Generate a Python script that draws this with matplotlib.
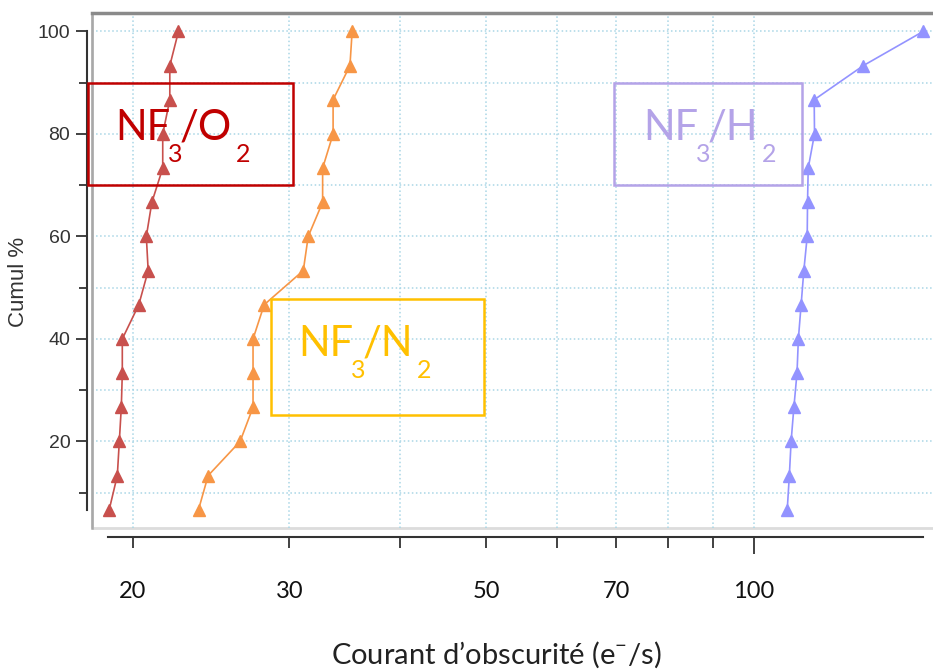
import matplotlib
matplotlib.use("Agg")
import matplotlib.pyplot as plt
from matplotlib.patches import Rectangle
from matplotlib.ticker import FixedLocator, FuncFormatter, MultipleLocator

# cumul % (15 devices each)
cumul = [6.67, 13.33, 20.0, 26.67, 33.33, 40.0, 46.67, 53.33,
         60.0, 66.67, 73.33, 80.0, 86.67, 93.33, 100.0]

# dark current (e-/s), sorted
nf3_o2 = [18.8, 19.2, 19.3, 19.4, 19.45, 19.45, 20.3, 20.8,
          20.7, 21.0, 21.6, 21.6, 22.0, 22.0, 22.5]
nf3_n2 = [23.7, 24.3, 26.4, 27.3, 27.3, 27.3, 28.1, 31.1,
          31.5, 32.7, 32.7, 33.6, 33.6, 35.1, 35.3]
nf3_h2 = [109.1, 109.7, 110.2, 111.0, 111.9, 112.3, 113.1, 113.9,
          114.9, 115.0, 115.2, 117.1, 117.0, 132.9, 155.2]

x_labels = [20, 30, 50, 70, 100]

plt.rcParams['mathtext.fontset'] = 'custom'
plt.rcParams['mathtext.rm'] = 'Lato'
narrow = ['Liberation Sans Narrow', 'Liberation Sans', 'DejaVu Sans']

W, H = 933, 672
fig = plt.figure(figsize=(W / 100, H / 100), dpi=100)

def fx(px):
    return px / W

def fy(py):
    return 1 - py / H

ax = fig.add_axes([fx(92), fy(528), fx(950) - fx(92), fy(13) - fy(528)])
ax.set_xscale('log')
ax.set_xlim(17.98, 166.4)
ax.set_ylim(3.1, 103.6)

ax.plot(nf3_o2, cumul, '-^', color='#c8504d', ms=8, lw=1.2)
ax.plot(nf3_n2, cumul, '-^', color='#f79646', ms=8, lw=1.2)
ax.plot(nf3_h2, cumul, '-^', color='#9393ff', ms=8, lw=1.2)

# grid
ax.xaxis.set_minor_locator(FixedLocator([20, 30, 40, 50, 60, 70, 80, 90]))
ax.yaxis.set_major_locator(MultipleLocator(20))
ax.yaxis.set_minor_locator(MultipleLocator(10))
ax.grid(which='both', color='#a9d6e6', linestyle=':', lw=1.1)
ax.set_axisbelow(True)

# plot frame
ax.add_patch(Rectangle((0, 0), 1, 1, transform=ax.transAxes, fill=False,
                       edgecolor='#dcdcdc', lw=2, clip_on=False, zorder=0.5))
ax.plot([0, 0], [0, 1], transform=ax.transAxes, color='#a8a8a8', lw=1.8, clip_on=False)
ax.plot([0, 1], [1, 1], transform=ax.transAxes, color='#8a8a8a', lw=2.5, clip_on=False)

# detached axes
for s in ['top', 'right']:
    ax.spines[s].set_visible(False)
ax.spines['left'].set_position(('outward', 3.6))
ax.spines['left'].set_bounds(6.67, 100)
ax.spines['bottom'].set_position(('outward', 6.5))
ax.spines['bottom'].set_bounds(18.75, 155)
for s in ['left', 'bottom']:
    ax.spines[s].set_color('#333333')
    ax.spines[s].set_linewidth(1.5)

ax.tick_params(axis='y', which='major', length=8, width=1.3, color='#333333',
               labelsize=14, labelcolor='#333333', pad=4)
ax.tick_params(axis='y', which='minor', length=6, width=1.3, color='#333333')
ax.tick_params(axis='x', which='major', length=12, width=1.3, color='#333333',
               labelsize=17, labelcolor='#111111', pad=20)
ax.tick_params(axis='x', which='minor', length=8, width=1.3, color='#333333',
               labelsize=17, labelcolor='#111111', pad=24)
for lab in ax.get_yticklabels():
    lab.set_family(narrow)

fmt = FuncFormatter(lambda v, p: f'{v:g}' if round(v) in x_labels else '')
ax.xaxis.set_major_formatter(fmt)
ax.xaxis.set_minor_formatter(fmt)
for lab in ax.get_xticklabels(which='both'):
    lab.set_family('Lato')

ax.set_ylabel('Cumul %', fontsize=16, family=narrow, color='#333333')
ax.yaxis.set_label_coords(-0.073, 0.478)
fig.text(fx(496), fy(655), 'Courant d\u2019obscurité (e$^{\\mathregular{-}}$/s)',
         ha='center', va='center', fontsize=21, family='Lato', color='#222222')

# gas labels: box + formula built from pieces (big subscripts)
boxes = [
    ('O', '#c00000', 88, 83, 293, 185, 115, 140),
    ('N', '#ffc000', 271, 299, 484, 415, 298, 356),
    ('H', '#b4a3e8', 614, 83, 802, 185, 643, 140),
]
for gas, col, x0, y0, x1, y1, tx, base in boxes:
    fig.patches.append(Rectangle((fx(x0), fy(y1)), fx(x1) - fx(x0), fy(y0) - fy(y1),
                                 transform=fig.transFigure, fill=False,
                                 edgecolor=col, lw=1.8, zorder=5))
    kw = dict(family='Lato', color=col, zorder=6)
    t1 = fig.text(fx(tx), fy(base), 'NF', ha='left', va='baseline', fontsize=30, **kw)
    s1 = fig.text(0, 0, '3', ha='left', va='baseline', fontsize=18, **kw)
    t2 = fig.text(0, 0, '/' + gas, ha='left', va='baseline', fontsize=30, **kw)
    s2 = fig.text(0, 0, '2', ha='left', va='baseline', fontsize=18, **kw)
    drop = 22
    fig.canvas.draw()
    r = fig.canvas.get_renderer()
    inv = fig.transFigure.inverted()
    bb = t1.get_window_extent(r)
    s1.set_position(inv.transform((bb.x1 - 2, (H - base) - drop)))
    bb = s1.get_window_extent(r)
    t2.set_position(inv.transform((bb.x1 - 3, H - base)))
    bb = t2.get_window_extent(r)
    s2.set_position(inv.transform((bb.x1 + 4, (H - base) - drop)))

fig.savefig('out.png', dpi=100)
